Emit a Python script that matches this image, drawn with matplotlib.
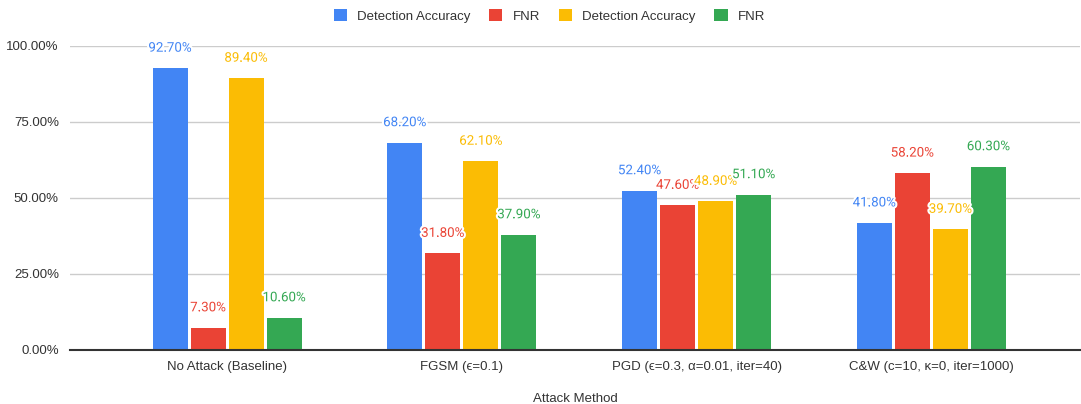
import matplotlib.pyplot as plt
import matplotlib.patheffects as pe
import numpy as np

# Data
attacks = ["No Attack (Baseline)", "FGSM (ϵ=0.1)",
           "PGD (ϵ=0.3, α=0.01, iter=40)", "C&W (c=10, κ=0, iter=1000)"]
series_names = ["Detection Accuracy", "FNR", "Detection Accuracy", "FNR"]
det_acc_1 = [92.7, 68.2, 52.4, 41.8]
fnr_1 = [7.3, 31.8, 47.6, 58.2]
det_acc_2 = [89.4, 62.1, 48.9, 39.7]
fnr_2 = [10.6, 37.9, 51.1, 60.3]
colors = ["#4285F4", "#EA4335", "#FBBC04", "#34A853"]

plt.rcParams['font.family'] = ['Liberation Sans', 'DejaVu Sans']

fig = plt.figure(figsize=(10.81, 4.04), dpi=100)
ax = fig.add_axes([70 / 1081, 54 / 404, 1010 / 1081, 304 / 404])

x = np.arange(len(attacks))
step = 0.162
width = 0.149
all_series = [det_acc_1, fnr_1, det_acc_2, fnr_2]

handles = []
for i, vals in enumerate(all_series):
    pos = x + (i - 1.5) * step
    b = ax.bar(pos, vals, width, color=colors[i], label=series_names[i], zorder=3)
    handles.append(b)
    for px, v in zip(pos, vals):
        ax.annotate(f"{v:.2f}%", (px, v), xytext=(0, 20), textcoords="offset pixels",
                    ha="center", va="center", fontsize=9.6, color=colors[i],
                    family=["Roboto", "DejaVu Sans"], zorder=5,
                    path_effects=[pe.withStroke(linewidth=3, foreground="white")])

ax.set_xlim(-0.669, 3.633)
ax.set_ylim(0, 100)
ax.set_yticks([0, 25, 50, 75, 100])
ax.set_yticklabels([f"{t:.2f}%" for t in [0, 25, 50, 75, 100]], fontsize=9.5, color="#333333")
ax.set_xticks(x)
ax.set_xticklabels(attacks, fontsize=9.5, color="#333333")
ax.tick_params(length=0)
ax.tick_params(axis="y", pad=8)
ax.tick_params(axis="x", pad=8)
ax.grid(axis="y", color="#cccccc", linewidth=1, zorder=0)
for s in ["top", "right", "left"]:
    ax.spines[s].set_visible(False)
ax.spines["bottom"].set_color("#333333")
ax.spines["bottom"].set_linewidth(1.5)
ax.spines["bottom"].set_zorder(4)
ax.set_xlabel("Attack Method", fontsize=9.5, color="#333333", labelpad=14)

fig.legend(handles=handles, loc="center", bbox_to_anchor=(549.5 / 1081, 1 - 16 / 404),
           ncol=4, frameon=False, fontsize=9.5, handlelength=1.0, handleheight=1.0,
           handletextpad=0.8, columnspacing=1.4, labelcolor="#333333")

fig.savefig("out.png", dpi=100)
